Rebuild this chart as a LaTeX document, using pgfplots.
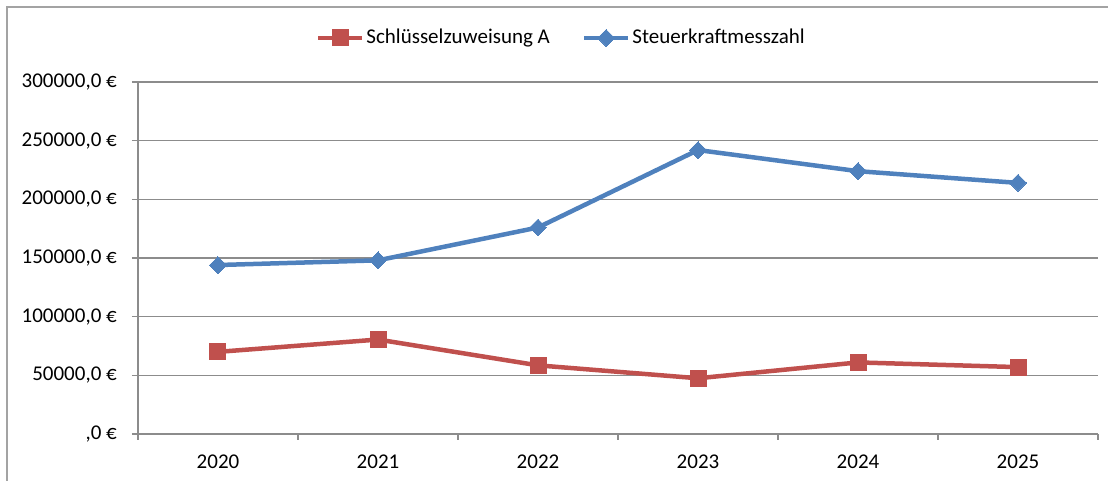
\documentclass[border=0pt]{standalone}
\usepackage{fontspec}
\setmainfont{Carlito}
\usepackage{pgfplots}
\pgfplotsset{compat=1.18}
\definecolor{cred}{HTML}{C0504D}
\definecolor{cblue}{HTML}{4F81BD}
\definecolor{cgrid}{HTML}{8C8C8C}
\begin{document}
\fontsize{21}{25}\selectfont
\begin{tikzpicture}[x=1pt,y=1pt]
\useasboundingbox (-138,-47) rectangle (970,434);
\draw[color=cgrid!80, line width=2pt] (-131,-47) -- (-131,427) -- (970,427);
\begin{axis}[
  at={(0,0)}, anchor=south west,
  scale only axis, width=960pt, height=352pt,
  xmin=-0.5, xmax=5.5, ymin=0, ymax=300000,
  axis x line*=bottom, axis y line*=left,
  axis line style={cgrid, line width=1.3pt},
  xtick={0,1,2,3,4,5},
  xticklabels={2020,2021,2022,2023,2024,2025},
  major x tick style={draw=none},
  minor xtick={-0.5,0.5,1.5,2.5,3.5,4.5,5.5},
  minor x tick style={cgrid, line width=1.3pt},
  minor tick length=6pt,
  ytick={0,50000,100000,150000,200000,250000,300000},
  yticklabels={{,0 €},{50000,0 €},{100000,0 €},{150000,0 €},{200000,0 €},{250000,0 €},{300000,0 €}},
  major y tick style={cgrid, line width=1.3pt},
  major tick length=6pt,
  tick align=outside,
  ymajorgrids, grid style={cgrid, line width=1.3pt},
  scaled y ticks=false,
  yticklabel style={xshift=-8pt},
  xticklabel style={yshift=-8pt},
  legend style={at={(0.441,1.125)}, anchor=center, draw=none, fill=none,
    legend columns=-1, column sep=0pt,
    /tikz/every even column/.append style={column sep=30pt}},
  legend image code/.code={
    \draw[mark repeat=2,mark phase=2] plot coordinates {(0pt,0pt) (22pt,0pt) (44pt,0pt)};
  },
]
\addplot[cred, line width=4.5pt, mark=square*, mark size=8pt, mark options={line width=0pt, fill=cred}]
  coordinates {(0,70000) (1,80500) (2,58500) (3,47500) (4,61000) (5,57000)};
\addlegendentry{Schlüsselzuweisung A}
\addplot[cblue, line width=4.5pt, mark=square*, mark size=6pt, mark options={rotate=45, line width=0pt, fill=cblue}]
  coordinates {(0,144000) (1,148000) (2,176000) (3,242000) (4,224000) (5,214000)};
\addlegendentry{Steuerkraftmesszahl}
\end{axis}
\end{tikzpicture}
\end{document}
